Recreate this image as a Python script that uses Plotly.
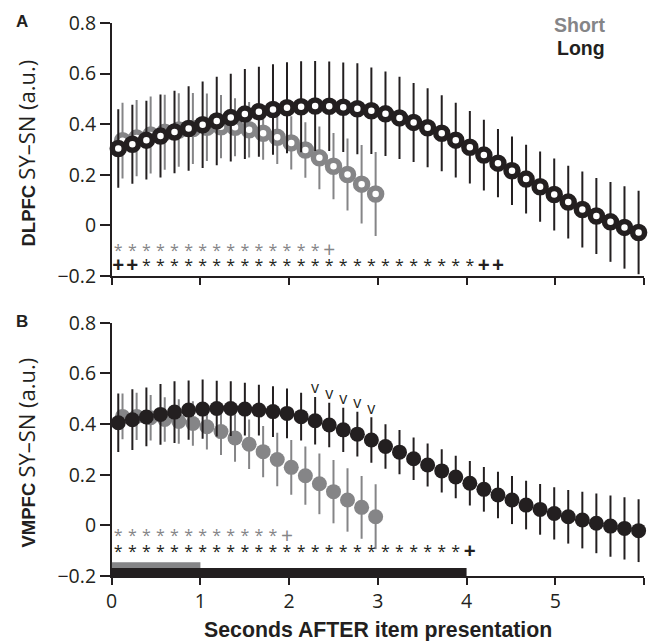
import plotly.graph_objects as go

# Sample times (s) for the two delay conditions
t_long = [0.074, 0.233, 0.391, 0.550, 0.708, 0.867, 1.025, 1.184, 1.342, 1.501,
          1.659, 1.818, 1.976, 2.135, 2.293, 2.452, 2.610, 2.769, 2.927, 3.086,
          3.244, 3.403, 3.561, 3.720, 3.878, 4.037, 4.195, 4.354, 4.512, 4.671,
          4.829, 4.988, 5.146, 5.305, 5.463, 5.622, 5.780, 5.939]
t_short = [0.122, 0.281, 0.439, 0.598, 0.756, 0.915, 1.073, 1.232, 1.390, 1.549,
           1.707, 1.866, 2.024, 2.183, 2.341, 2.500, 2.658, 2.817, 2.975]

# DLPFC SY-SN
dlpfc_long = [0.304, 0.321, 0.337, 0.353, 0.369, 0.383, 0.398, 0.413, 0.426, 0.440,
              0.449, 0.458, 0.465, 0.469, 0.472, 0.471, 0.467, 0.461, 0.453, 0.441,
              0.425, 0.407, 0.386, 0.364, 0.337, 0.309, 0.278, 0.246, 0.216, 0.183,
              0.153, 0.122, 0.092, 0.063, 0.037, 0.014, -0.008, -0.028]
dlpfc_long_err = [0.155, 0.156, 0.156, 0.164, 0.163, 0.167, 0.171, 0.175, 0.173, 0.178,
                  0.178, 0.179, 0.180, 0.180, 0.178, 0.177, 0.177, 0.180, 0.171, 0.167,
                  0.163, 0.156, 0.156, 0.150, 0.148, 0.143, 0.140, 0.135, 0.135, 0.136,
                  0.139, 0.142, 0.144, 0.150, 0.150, 0.158, 0.163, 0.165]
dlpfc_short = [0.335, 0.345, 0.357, 0.368, 0.377, 0.383, 0.388, 0.390, 0.388, 0.378,
               0.364, 0.348, 0.326, 0.298, 0.267, 0.234, 0.201, 0.163, 0.124]
dlpfc_short_err = [0.150, 0.151, 0.152, 0.148, 0.145, 0.140, 0.133, 0.125, 0.115, 0.110,
                   0.105, 0.105, 0.105, 0.110, 0.124, 0.131, 0.142, 0.155, 0.166]

# VMPFC SY-SN
vmpfc_long = [0.405, 0.417, 0.428, 0.438, 0.447, 0.455, 0.459, 0.461, 0.461, 0.459,
              0.455, 0.449, 0.442, 0.429, 0.413, 0.396, 0.377, 0.360, 0.337, 0.311,
              0.289, 0.263, 0.238, 0.215, 0.191, 0.166, 0.142, 0.120, 0.100, 0.080,
              0.063, 0.047, 0.034, 0.021, 0.008, -0.003, -0.012, -0.021]
vmpfc_long_err = [0.115, 0.120, 0.116, 0.120, 0.122, 0.117, 0.117, 0.110, 0.108, 0.104,
                  0.100, 0.100, 0.098, 0.094, 0.094, 0.088, 0.087, 0.088, 0.090, 0.088,
                  0.087, 0.084, 0.085, 0.085, 0.084, 0.088, 0.088, 0.092, 0.095, 0.096,
                  0.100, 0.103, 0.106, 0.112, 0.118, 0.121, 0.123, 0.124]
vmpfc_short = [0.430, 0.430, 0.425, 0.418, 0.410, 0.402, 0.389, 0.370, 0.345, 0.320,
               0.291, 0.260, 0.229, 0.196, 0.164, 0.133, 0.100, 0.071, 0.034]
vmpfc_short_err = [0.090, 0.093, 0.090, 0.088, 0.088, 0.088, 0.090, 0.092, 0.094, 0.098,
                   0.101, 0.106, 0.108, 0.115, 0.120, 0.125, 0.125, 0.124, 0.128]

# Significance rows (one symbol per long-grid sample, starting at the first sample)
sig_dlpfc_short = "***************+"
sig_dlpfc_long = "++************************++"
sig_vmpfc_short = "************+"
sig_vmpfc_long = "*************************+"
# Long > short difference markers (sample indices on the long grid)
vmpfc_diff_idx = [14, 15, 16, 17, 18]

# Stimulus windows (s)
window_short = [0, 1]
window_long = [0, 4]

INK = "#231f20"
GRAY = "#858587"
W, H = 656, 641

# pixel geometry of the plot areas
x0_px, x1_px = 111.7, 644.0
a_top, a_bot = 23.0, 276.0
b_top, b_bot = 322.7, 576.0


def py(p):
    return 1 - p / H


def px(p):
    return p / W


fig = go.Figure()


def add_series(t, y, err, color, xa, ya, open_marker):
    if open_marker:
        marker = dict(symbol="circle", size=12, color="white",
                      line=dict(color=color, width=5.5))
    else:
        marker = dict(symbol="circle", size=15, color=color, line=dict(width=0))
    fig.add_trace(go.Scatter(
        x=t, y=y, mode="markers", marker=marker,
        error_y=dict(type="data", array=err, visible=True, thickness=2,
                     width=0, color=color),
        xaxis=xa, yaxis=ya, showlegend=False, cliponaxis=False,
        hoverinfo="skip"))


def add_sig(symbols, y, color, bold, xa, ya):
    txt = []
    sizes = []
    for s in symbols:
        if s == "+":
            txt.append("<b>+</b>" if bold else "+")
            sizes.append(21)
        else:
            txt.append(s)
            sizes.append(16)
    fig.add_trace(go.Scatter(
        x=t_long[:len(symbols)], y=[y] * len(symbols), mode="text",
        text=txt, textposition="middle center",
        textfont=dict(family="Open Sans", size=sizes, color=color),
        xaxis=xa, yaxis=ya, showlegend=False, cliponaxis=False,
        hoverinfo="skip"))


# Panel A (DLPFC)
add_series(t_short, dlpfc_short, dlpfc_short_err, GRAY, "x", "y", True)
add_series(t_long, dlpfc_long, dlpfc_long_err, INK, "x", "y", True)
add_sig(sig_dlpfc_short, -0.106, GRAY, False, "x", "y")
add_sig(sig_dlpfc_long, -0.164, INK, True, "x", "y")

# Panel B (VMPFC)
add_series(t_short, vmpfc_short, vmpfc_short_err, GRAY, "x2", "y2", False)
add_series(t_long, vmpfc_long, vmpfc_long_err, INK, "x2", "y2", False)
add_sig(sig_vmpfc_short, -0.048, GRAY, False, "x2", "y2")
add_sig(sig_vmpfc_long, -0.108, INK, True, "x2", "y2")
fig.add_trace(go.Scatter(
    x=[t_long[i] for i in vmpfc_diff_idx],
    y=[vmpfc_long[i] + vmpfc_long_err[i] + 0.03 for i in vmpfc_diff_idx],
    mode="text", text=["v"] * len(vmpfc_diff_idx), textposition="middle center",
    textfont=dict(family="Open Sans", size=16, color=INK),
    xaxis="x2", yaxis="y2", showlegend=False, cliponaxis=False, hoverinfo="skip"))

# stimulus windows under panel B
fig.add_shape(type="rect", xref="x2", yref="y2",
              x0=window_short[0], x1=window_short[1], y0=-0.168, y1=-0.146,
              fillcolor=GRAY, line=dict(width=0), layer="above")
fig.add_shape(type="rect", xref="x2", yref="y2",
              x0=window_long[0], x1=window_long[1], y0=-0.203, y1=-0.168,
              fillcolor=INK, line=dict(width=0), layer="above")

tick_font = dict(family="Open Sans", size=19.5, color=INK)
yticks = [-0.2, 0, 0.2, 0.4, 0.6, 0.8]
ylabels = ["\u22120.2", "0", "0.2", "0.4", "0.6", "0.8"]
xticks = [0, 1, 2, 3, 4, 5, 6]
xlabels = ["0", "1", "2", "3", "4", "5", ""]

yax = dict(range=[-0.2, 0.8], tickvals=yticks, ticktext=ylabels,
           ticks="outside", ticklen=10, tickwidth=1.5, tickcolor=INK,
           showline=True, linecolor=INK, linewidth=1.5, showgrid=False,
           zeroline=False, tickfont=tick_font, automargin=False)
xax = dict(range=[0, 6], tickvals=xticks, ticktext=xlabels,
           ticks="outside", ticklen=7, tickwidth=1.5, tickcolor=INK,
           showline=True, linecolor=INK, linewidth=1.5, showgrid=False,
           zeroline=False, tickfont=tick_font, automargin=False)

fig.update_layout(
    width=W, height=H, margin=dict(l=0, r=0, t=0, b=0),
    paper_bgcolor="white", plot_bgcolor="white",
    xaxis=dict(xax, domain=[px(x0_px), px(x1_px)], anchor="y",
               showticklabels=False),
    yaxis=dict(yax, domain=[py(a_bot), py(a_top)], anchor="x"),
    xaxis2=dict(xax, domain=[px(x0_px), px(x1_px)], anchor="y2"),
    yaxis2=dict(yax, domain=[py(b_bot), py(b_top)], anchor="x2"),
)

REG = '<span style="font-family:\'Open Sans\';font-size:22px">'
ann = [
    dict(text="<b>A</b>", x=px(22), y=py(21),
         font=dict(family="Liberation Sans", size=17, color=INK)),
    dict(text="<b>B</b>", x=px(22), y=py(321),
         font=dict(family="Liberation Sans", size=17, color=INK)),
    dict(text="<b>DLPFC</b> " + REG + "SY\u2013SN (a.u.)</span>", x=px(25.5), y=py(153),
         textangle=-90, font=dict(family="Liberation Sans", size=18.5, color=INK)),
    dict(text="<b>VMPFC</b> " + REG + "SY\u2013SN (a.u.)</span>", x=px(25.5), y=py(453),
         textangle=-90, font=dict(family="Liberation Sans", size=18.5, color=INK)),
    dict(text="<b>Seconds AFTER item presentation</b>", x=px(378), y=py(630),
         font=dict(family="Liberation Sans", size=21.3, color=INK)),
    dict(text="<b>Short</b>", x=px(607), y=py(25), xanchor="right",
         font=dict(family="Liberation Sans", size=19.5, color=GRAY)),
    dict(text="<b>Long</b>", x=px(607), y=py(48), xanchor="right",
         font=dict(family="Liberation Sans", size=19.5, color=INK)),
]
for a in ann:
    a.setdefault("xanchor", "center")
    a.update(xref="paper", yref="paper", yanchor="middle", showarrow=False)
fig.update_layout(annotations=ann)

fig.write_html("out.html")
